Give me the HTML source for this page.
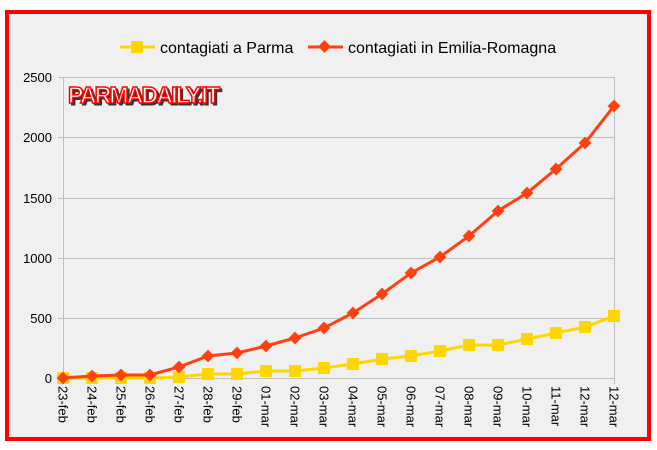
<!DOCTYPE html>
<html><head><style>
body{margin:0;background:#fff;}
svg{display:block;font-family:"Liberation Sans",sans-serif;}
</style></head><body>
<svg width="657" height="450" xmlns="http://www.w3.org/2000/svg">
<rect x="7" y="12" width="642" height="427" fill="#f0f0f0" stroke="#ff0000" stroke-width="4"/>
<g stroke="#c0c0c0" stroke-width="1">
<line x1="58" y1="77.5" x2="614" y2="77.5"/>
<line x1="58" y1="137.5" x2="614" y2="137.5"/>
<line x1="58" y1="198.5" x2="614" y2="198.5"/>
<line x1="58" y1="258.5" x2="614" y2="258.5"/>
<line x1="58" y1="318.5" x2="614" y2="318.5"/>
<line x1="58" y1="378.5" x2="614" y2="378.5"/>
<line x1="63.5" y1="77" x2="63.5" y2="384"/>
<line x1="614.5" y1="77" x2="614.5" y2="384"/>
</g>
<g font-size="13" text-anchor="end" fill="#000">
<text x="52" y="82">2500</text><text x="52" y="142">2000</text><text x="52" y="203">1500</text>
<text x="52" y="263">1000</text><text x="52" y="323">500</text><text x="52" y="383">0</text>
</g>
<g font-size="13" fill="#000" id="xl"></g>
<text x="68" y="103" font-size="23" font-weight="bold" fill="#333" stroke="#333" stroke-width="1" transform="translate(2,2)" textLength="152">PARMADAILY.IT</text>
<text x="68" y="103" font-size="23" font-weight="bold" fill="#fff" stroke="#ff0000" stroke-width="1.5" textLength="152">PARMADAILY.IT</text>
<line x1="120" y1="47" x2="155" y2="47" stroke="#ffd700" stroke-width="3"/>
<rect x="131" y="41" width="12" height="12" fill="#ffd700"/>
<text x="160" y="53" font-size="16">contagiati a Parma</text>
<line x1="308" y1="47" x2="343" y2="47" stroke="#ff4010" stroke-width="3"/>
<rect x="320" y="42" width="9" height="9" fill="#ff4010" transform="rotate(45 324.5 46.5)"/>
<text x="348" y="53" font-size="16">contagiati in Emilia-Romagna</text>
<g id="series"></g>
</svg>
<script>
var labels=["23-feb","24-feb","25-feb","26-feb","27-feb","28-feb","29-feb","01-mar","02-mar","03-mar","04-mar","05-mar","06-mar","07-mar","08-mar","09-mar","10-mar","11-mar","12-mar","12-mar"];
var red=[378,376,375,375,367,356,353,346,338,328,313,294,273,257,236,211,193,169,143,106];
var yel=[378,378,378,378,377,374,374,371,371,368,364,359,356,351,345,345,339,333,327,316];
var ns="http://www.w3.org/2000/svg",xl=document.getElementById("xl"),s=document.getElementById("series");
function X(i){return 63+i*29;}
labels.forEach(function(l,i){var t=document.createElementNS(ns,"text");t.setAttribute("transform","translate("+(X(i)-4.5)+",386) rotate(90)");t.textContent=l;xl.appendChild(t);});
function line(d,c){var p=document.createElementNS(ns,"polyline");p.setAttribute("points",d.map(function(y,i){return X(i)+","+y}).join(" "));p.setAttribute("fill","none");p.setAttribute("stroke",c);p.setAttribute("stroke-width","3");s.appendChild(p);}
line(yel,"#ffd700");
yel.forEach(function(y,i){var r=document.createElementNS(ns,"rect");r.setAttribute("x",X(i)-6);r.setAttribute("y",y-6);r.setAttribute("width",12);r.setAttribute("height",12);r.setAttribute("fill","#ffd700");s.appendChild(r);});
line(red,"#ff4010");
red.forEach(function(y,i){var r=document.createElementNS(ns,"rect");r.setAttribute("x",X(i)-4.5);r.setAttribute("y",y-4.5);r.setAttribute("width",9);r.setAttribute("height",9);r.setAttribute("fill","#ff4010");r.setAttribute("transform","rotate(45 "+X(i)+" "+y+")");s.appendChild(r);});
</script>
</body></html>
